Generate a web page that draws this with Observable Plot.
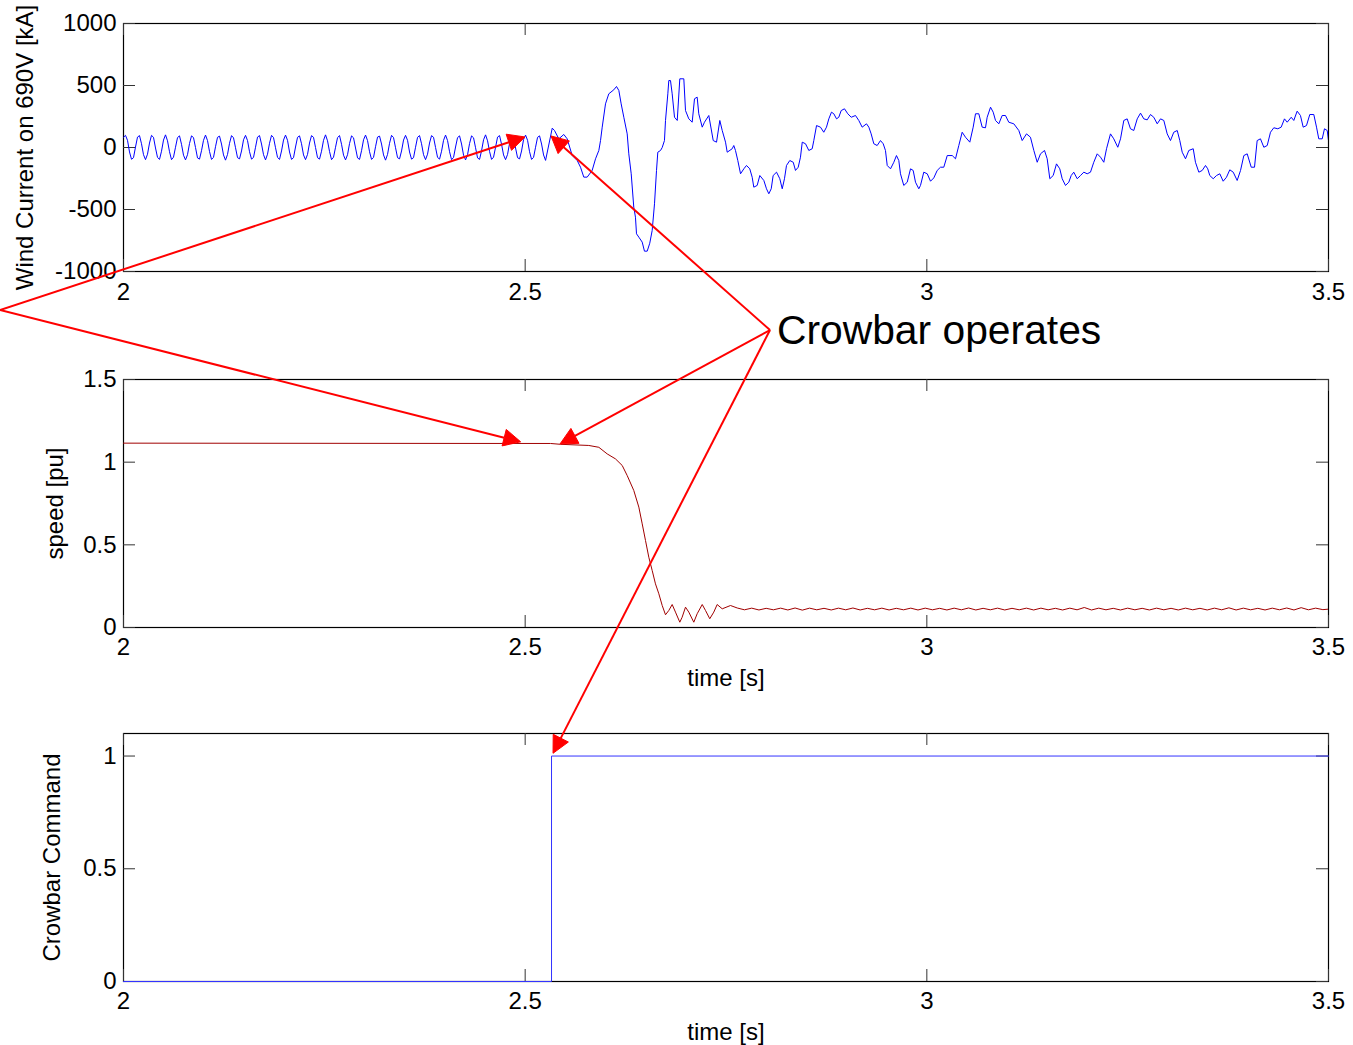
<!DOCTYPE html>
<html>
<head>
<meta charset="utf-8">
<script src="https://cdn.jsdelivr.net/npm/d3@7"></script>
<script src="https://cdn.jsdelivr.net/npm/@observablehq/plot@0.6"></script>
<style>
html, body { margin: 0; padding: 0; background: #fff; }
#wrap { position: relative; width: 1353px; height: 1045px; overflow: hidden; font-family: "Liberation Sans", Arial, sans-serif; }
#wrap > svg { position: absolute; left: 0; }
</style>
</head>
<body>
<div id="wrap"></div>
<script>
// ---------- tick labels ----------
const timeTicks = [2, 2.5, 3, 3.5];
const currentTicks = [-1000, -500, 0, 500, 1000];
const speedTicks = [0, 0.5, 1, 1.5];
const crowbarTicks = [0, 0.5, 1];

// ---------- wind current [kA] ----------
// steady 60 Hz ripple before the crowbar fires (uniform samples from t = 2.0 s)
const preFaultStart = 2.0;
const preFaultStep = 0.00249;
const preFaultCurrent = [
  82, 98, 58, -36, -95, -82, 4, 84, 96, 30, -58, -98, -54, 36, 98, 82, -4, -80, -96, -30,
  60, 102, 54, -34, -98, -78, 2, 80, 94, 26, -62, -100, -58, 32, 94, 80, 0, -84, -94, -26,
  58, 100, 56, -32, -96, -80, 6, 82, 92, 28, -60, -102, -56, 34, 96, 78, -2, -82, -92, -28,
  62, 98, 56, -34, -94, -80, 2, 84, 96, 28, -58, -100, -54, 34, 98, 80, -2, -80, -96, -28,
  60, 100, 58, -36, -96, -82, 4, 82, 94, 30, -60, -98, -56, 36, 96, 82, 0, -82, -94, -30,
  58, 102, 54, -32, -98, -78, 2, 80, 96, 26, -62, -100, -58, 32, 94, 78, -4, -84, -96, -26,
  62, 100, 56, -34, -96, -80, 6, 84, 92, 28, -60, -102, -56, 34, 98, 80, -2, -82, -92, -28,
  60, 98, 58, -36, -94, -82, 2, 82, 96, 30, -58, -98, -54, 36, 96, 82, 0, -80, -94, -30,
  58, 100, 56, -34, -98, -80, 4, 80, 94, 28, -62, -100, -58, 32, 94, 78, -2, -84, -96, -26,
  62, 102, 54, -32, -96, -78, 2, 84, 96, 26, -60, -98, -56, 34, 98, 80, -4, -82, -92, -28,
  64, 100, 58, -34, -96, -80, 2, 82, 94, 28, -60, -104
];
// transient after the crowbar fires (time [s], current [kA])
const faultTime = [
  2.5337, 2.5365, 2.5419, 2.5481, 2.5523, 2.5585, 2.5648, 2.5689, 2.5730, 2.5772,
  2.5834, 2.5876, 2.5917, 2.5938, 2.5959, 2.6000, 2.6041, 2.6103, 2.6137, 2.6166,
  2.6195, 2.6228, 2.6270, 2.6290, 2.6320, 2.6352, 2.6373, 2.6386, 2.6415, 2.6457,
  2.6485, 2.6519, 2.6551, 2.6581, 2.6610, 2.6635, 2.6651, 2.6685, 2.6706, 2.6734,
  2.6747, 2.6776, 2.6788, 2.6809, 2.6830, 2.6859, 2.6893, 2.6925, 2.6975, 2.6996,
  2.7037, 2.7079, 2.7108, 2.7141, 2.7161, 2.7204, 2.7232, 2.7286, 2.7341, 2.7382,
  2.7423, 2.7453, 2.7494, 2.7515, 2.7577, 2.7597, 2.7618, 2.7647, 2.7681, 2.7722,
  2.7755, 2.7796, 2.7826, 2.7846, 2.7888, 2.7921, 2.7971, 2.8004, 2.8033, 2.8063,
  2.8087, 2.8129, 2.8170, 2.8200, 2.8228, 2.8253, 2.8294, 2.8337, 2.8365, 2.8399,
  2.8427, 2.8449, 2.8490, 2.8531, 2.8573, 2.8593, 2.8627, 2.8676, 2.8717, 2.8751,
  2.8780, 2.8813, 2.8842, 2.8876, 2.8904, 2.8934, 2.8975, 2.9016, 2.9059, 2.9112,
  2.9153, 2.9195, 2.9249, 2.9278, 2.9307, 2.9340, 2.9382, 2.9423, 2.9457, 2.9485,
  2.9507, 2.9548, 2.9589, 2.9622, 2.9651, 2.9672, 2.9713, 2.9756, 2.9797, 2.9830,
  2.9859, 2.9900, 2.9921, 2.9962, 3.0005, 3.0046, 3.0087, 3.0129, 3.0170, 3.0211,
  3.0254, 3.0316, 3.0357, 3.0398, 3.0440, 3.0481, 3.0535, 3.0577, 3.0606, 3.0647,
  3.0689, 3.0730, 3.0751, 3.0793, 3.0826, 3.0855, 3.0896, 3.0938, 3.0979, 3.1020,
  3.1083, 3.1145, 3.1187, 3.1241, 3.1290, 3.1332, 3.1374, 3.1415, 3.1465, 3.1498,
  3.1531, 3.1573, 3.1614, 3.1655, 3.1685, 3.1726, 3.1767, 3.1797, 3.1829, 3.1872,
  3.1913, 3.1954, 3.1996, 3.2037, 3.2078, 3.2121, 3.2162, 3.2203, 3.2237, 3.2286,
  3.2327, 3.2377, 3.2411, 3.2452, 3.2494, 3.2535, 3.2576, 3.2619, 3.2660, 3.2701,
  3.2743, 3.2784, 3.2825, 3.2868, 3.2909, 3.2950, 3.2992, 3.3033, 3.3074, 3.3117,
  3.3149, 3.3179, 3.3220, 3.3261, 3.3316, 3.3344, 3.3386, 3.3428, 3.3469, 3.3497,
  3.3522, 3.3565, 3.3606, 3.3647, 3.3689, 3.3730, 3.3771, 3.3814, 3.3863, 3.3905,
  3.3946, 3.3988, 3.4038, 3.4079, 3.4112, 3.4153, 3.4195, 3.4237, 3.4278, 3.4319,
  3.4369, 3.4411, 3.4452, 3.4486, 3.4536, 3.4568, 3.4610, 3.4651, 3.4685, 3.4726,
  3.4767, 3.4817, 3.4851, 3.4879, 3.4922, 3.4950, 3.4984, 3.5000
];
const faultCurrent = [
  156, 137, 70, 105, 70, -64, -105, -159, -239, -239,
  -185, -91, -24, 56, 164, 352, 433, 465, 492, 460,
  352, 244, 110, -51, -212, -481, -562, -696, -723, -763,
  -836, -836, -772, -669, -454, -185, -38, -24, 0, 56,
  218, 433, 540, 540, 433, 244, 218, 554, 554, 298,
  231, 204, 393, 406, 272, 164, 204, 258, 56, 43,
  218, 137, 43, -38, -10, 16, -24, -105, -212, -172,
  -145, -172, -240, -320, -306, -226, -266, -333, -373, -333,
  -226, -199, -252, -333, -252, -145, -105, -119, -185, -159,
  -78, 43, 30, -24, -10, 56, 177, 164, 123, 164,
  231, 285, 272, 231, 244, 298, 312, 272, 244, 258,
  218, 164, 191, 164, 110, 30, 16, 56, 30, -24,
  -145, -172, -119, -65, -105, -212, -306, -280, -172, -185,
  -280, -333, -306, -199, -212, -272, -245, -185, -159, -159,
  -65, -65, -91, 16, 123, 83, 43, 164, 272, 272,
  164, 159, 244, 325, 285, 218, 191, 258, 258, 204,
  191, 137, 56, 110, 83, -24, -119, -51, -24, -91,
  -252, -226, -132, -172, -252, -306, -280, -226, -199, -252,
  -226, -199, -212, -199, -119, -51, -78, -119, -10, 110,
  70, 2, 70, 218, 231, 151, 137, 231, 277, 231,
  223, 266, 244, 191, 231, 218, 110, 56, 123, 137,
  56, -38, -91, -24, -10, -119, -199, -185, -145, -172,
  -226, -252, -226, -212, -272, -240, -180, -199, -266, -185,
  -65, -51, -159, -159, 56, 70, 2, 16, 123, 159,
  151, 164, 231, 204, 244, 218, 293, 258, 164, 177,
  266, 266, 164, 70, 70, 151, 137, 56
];

// ---------- rotor speed [pu] ----------
const speedTime = [
  2.0000, 2.5315, 2.5440, 2.5792, 2.5917, 2.6021, 2.6124, 2.6208, 2.6270, 2.6352,
  2.6415, 2.6457, 2.6498, 2.6539, 2.6581, 2.6622, 2.6664, 2.6706, 2.6747, 2.6788,
  2.6830, 2.6871, 2.6925, 2.6954, 2.6996, 2.7037, 2.7099, 2.7141, 2.7204, 2.7245,
  2.7298, 2.7348, 2.7390, 2.7453, 2.7556
];
const speedValue = [
  1.115, 1.113, 1.108, 1.101, 1.090, 1.050, 1.020, 0.980, 0.919, 0.829,
  0.728, 0.627, 0.526, 0.425, 0.345, 0.264, 0.204, 0.133, 0.077, 0.103,
  0.139, 0.093, 0.032, 0.062, 0.123, 0.093, 0.032, 0.083, 0.139, 0.103,
  0.053, 0.093, 0.139, 0.113, 0.133
];
const speedTailStart = 2.764;
const speedTailStep = 0.009;
const speedTail = [
  0.118, 0.107, 0.117, 0.106, 0.116, 0.107, 0.117, 0.106, 0.118, 0.105,
  0.117, 0.107, 0.116, 0.106, 0.117, 0.107, 0.118, 0.106, 0.116, 0.107,
  0.117, 0.106, 0.116, 0.107, 0.117, 0.106, 0.117, 0.107, 0.116, 0.106,
  0.117, 0.107, 0.118, 0.106, 0.116, 0.107, 0.117, 0.106, 0.116, 0.107,
  0.117, 0.106, 0.117, 0.107, 0.116, 0.106, 0.117, 0.107, 0.121, 0.106,
  0.117, 0.107, 0.116, 0.106, 0.117, 0.107, 0.116, 0.106, 0.117, 0.107,
  0.116, 0.106, 0.117, 0.107, 0.116, 0.106, 0.117, 0.107, 0.119, 0.106,
  0.117, 0.107, 0.116, 0.106, 0.117, 0.107, 0.118, 0.106, 0.120, 0.107,
  0.117, 0.108, 0.112
];

// ---------- crowbar command ----------
const crowbarTime = [2.0, 2.5328, 2.5328, 3.5];
const crowbarValue = [0, 0, 1, 1];

// ---------- annotation (anchors in panel data coordinates) ----------
const calloutText = "Crowbar operates";
const calloutAnchor = {panel: 1, t: 2.8141, v: 1.712};
const leftOrigin = {panel: 0, t: 1.8469, v: -1315};
const crowbarOrigin = {panel: 1, t: 2.8054, v: 1.796};
const arrowTips = [
  {from: leftOrigin, panel: 0, t: 2.5004, v: 81},
  {from: leftOrigin, panel: 1, t: 2.4950, v: 1.12},
  {from: crowbarOrigin, panel: 0, t: 2.5328, v: 89},
  {from: crowbarOrigin, panel: 1, t: 2.5440, v: 1.107},
  {from: crowbarOrigin, panel: 2, t: 2.5353, v: 1.01}
];

// ---------- build tables ----------
const currentData = preFaultCurrent.map((v, i) => ({t: preFaultStart + i * preFaultStep, v}))
  .concat(faultTime.map((t, i) => ({t, v: faultCurrent[i]})));
const speedData = speedTime.map((t, i) => ({t, v: speedValue[i]}))
  .concat(speedTail.map((v, i) => ({t: speedTailStart + i * speedTailStep, v})));
const crowbarData = crowbarTime.map((t, i) => ({t, v: crowbarValue[i]}));

const FONT = '"Liberation Sans", Arial, Helvetica, sans-serif';
const W = 1353, ML = 123, MR = 25, INNER_W = W - ML - MR, TICK = 12;

function panel({top, marginTop, marginBottom, innerHeight, yDomain, yTicks, yLabel, yLabelOffset, xLabel, xTickPad, marks}) {
  const chart = Plot.plot({
    width: W,
    height: marginTop + innerHeight + marginBottom,
    marginLeft: ML, marginRight: MR, marginTop, marginBottom,
    style: {fontSize: "24px", fontFamily: FONT, color: "black", background: "transparent", overflow: "visible"},
    x: {domain: [2, 3.5]},
    y: {domain: yDomain},
    marks: [
      Plot.frame({stroke: "black", strokeWidth: 1.2}),
      Plot.tickX(timeTicks, {x: d => d, insetTop: innerHeight - TICK, stroke: "#333"}),
      Plot.tickX(timeTicks, {x: d => d, insetBottom: innerHeight - TICK, stroke: "#333"}),
      Plot.tickY(yTicks, {y: d => d, insetRight: INNER_W - TICK, stroke: "#333"}),
      Plot.tickY(yTicks, {y: d => d, insetLeft: INNER_W - TICK, stroke: "#333"}),
      Plot.axisX(timeTicks, {tickSize: 0, tickPadding: xTickPad, tickFormat: d => String(d),
        label: xLabel ?? null, labelAnchor: "center", labelOffset: 58, labelArrow: "none"}),
      Plot.axisY(yTicks, {tickSize: 0, tickPadding: 7, tickFormat: d => String(d),
        label: yLabel, labelAnchor: "center", labelOffset: yLabelOffset, labelArrow: "none"}),
      ...marks
    ]
  });
  chart.style.top = top + "px";
  return {chart, top};
}

const wrap = document.getElementById("wrap");

const p1 = panel({
  top: 0, marginTop: 23, marginBottom: 40, innerHeight: 248,
  yDomain: [-1000, 1000], yTicks: currentTicks,
  yLabel: "Wind Current on 690V [kA]", yLabelOffset: 108, xTickPad: 11,
  marks: [Plot.line(currentData, {x: "t", y: "v", stroke: "#0000ff", strokeWidth: 1, clip: true})]
});
const p2 = panel({
  top: 340, marginTop: 39, marginBottom: 75, innerHeight: 248,
  yDomain: [0, 1.5], yTicks: speedTicks,
  yLabel: "speed [pu]", yLabelOffset: 78, xLabel: "time [s]", xTickPad: 10,
  marks: [Plot.line(speedData, {x: "t", y: "v", stroke: "#a00000", strokeWidth: 1, clip: true})]
});
const p3 = panel({
  top: 700, marginTop: 33, marginBottom: 64, innerHeight: 248,
  yDomain: [0, 1.1], yTicks: crowbarTicks,
  yLabel: "Crowbar Command", yLabelOffset: 81, xLabel: "time [s]", xTickPad: 10,
  marks: [Plot.line(crowbarData, {x: "t", y: "v", stroke: "#3333ff", strokeWidth: 1})]
});
const panels = [p1, p2, p3];
panels.forEach(p => wrap.appendChild(p.chart));

// ---------- overlay annotation ----------
function toPage(a) {
  const p = panels[a.panel];
  return [p.chart.scale("x").apply(a.t), p.top + p.chart.scale("y").apply(a.v)];
}
const overlay = d3.create("svg")
  .attr("width", W).attr("height", 1045)
  .style("top", "0px").style("pointer-events", "none");

const HEAD_LEN = 17, HEAD_HALF = 8.5;
for (const a of arrowTips) {
  const [x0, y0] = toPage(a.from);
  const [x1, y1] = toPage(a);
  const dx = x1 - x0, dy = y1 - y0, len = Math.hypot(dx, dy);
  const ux = dx / len, uy = dy / len;
  const bx = x1 - ux * HEAD_LEN, by = y1 - uy * HEAD_LEN;
  overlay.append("line")
    .attr("x1", x0).attr("y1", y0).attr("x2", bx).attr("y2", by)
    .attr("stroke", "#ff0000").attr("stroke-width", 2);
  overlay.append("polygon")
    .attr("points", [[x1, y1], [bx - uy * HEAD_HALF, by + ux * HEAD_HALF], [bx + uy * HEAD_HALF, by - ux * HEAD_HALF]].map(p => p.join(",")).join(" "))
    .attr("fill", "#ff0000").attr("stroke", "#ff0000").attr("stroke-width", 1);
}
const [tx, ty] = toPage(calloutAnchor);
overlay.append("text")
  .attr("x", tx).attr("y", ty)
  .attr("font-family", FONT).attr("font-size", 40.8).attr("fill", "black")
  .text(calloutText);
wrap.appendChild(overlay.node());
</script>
</body>
</html>
